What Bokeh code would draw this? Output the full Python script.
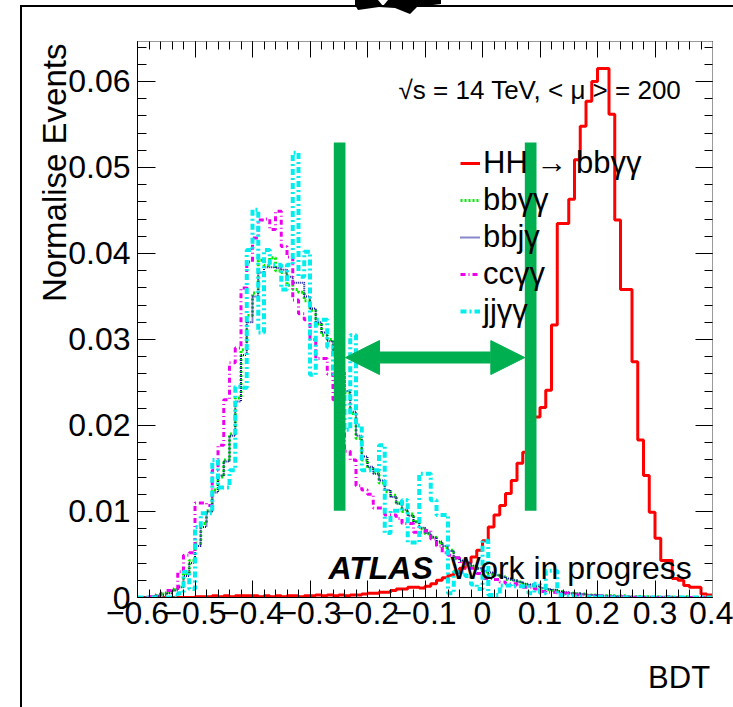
import numpy as np
from bokeh.plotting import figure
from bokeh.models import (Range1d, LinearAxis, FixedTicker, CustomJSTickFormatter, Legend,
                          LegendItem, BoxAnnotation, Arrow, NormalHead, Label, InlineStyleSheet)
from bokeh.embed import file_html
from bokeh.resources import INLINE

# ---------------- data ----------------
bin_lo, bin_hi, n_bins = -0.6, 0.4, 100
bin_edges = np.round(np.linspace(bin_lo, bin_hi, n_bins + 1), 4)

signal_hh = [0, 0, 0, 0, 0, 0, 0, 0, 0, 0,
             0.0001, 0.0001, 0.0001, 0.0002, 0.0001, 0.0002, 0.0001, 0.0002, 0.0002, 0.0002,
             0.0002, 0.0001, 0.0002, 0.0001, 0.0002, 0.0001, 0.0002, 0.0002, 0.0001, 0.0002,
             0.0002, 0.0003, 0.0002, 0.0003, 0.0002, 0.0003, 0.0002, 0.0003, 0.0003, 0.0004,
             0.0005, 0.0005, 0.0006, 0.0006, 0.0008, 0.0010, 0.0010, 0.0012, 0.0012, 0.0011,
             0.0013, 0.0016, 0.0020, 0.0023, 0.0026, 0.0029, 0.0034, 0.0040, 0.0047, 0.0055,
             0.0066, 0.0082, 0.0096, 0.0107, 0.0121, 0.0136, 0.0156, 0.0169, 0.0185, 0.0210,
             0.0221, 0.0241, 0.0317, 0.0435, 0.0435, 0.0463, 0.0509, 0.0548, 0.0577, 0.0600,
             0.0615, 0.0615, 0.0562, 0.0439, 0.0358, 0.0358, 0.0274, 0.0183, 0.0142, 0.0099,
             0.0069, 0.0043, 0.0043, 0.0022, 0.0020, 0.0014, 0.0012, 0.0012, 0.0004, 0.0003]

bkg_bbyy = [0.0000, 0.0000, 0.0001, 0.0002, 0.0004, 0.0006, 0.0009, 0.0013, 0.0028, 0.0043,
            0.0063, 0.0086, 0.0101, 0.0125, 0.0140, 0.0160, 0.0190, 0.0232, 0.0288, 0.0328,
            0.0354, 0.0392, 0.0386, 0.0395, 0.0380, 0.0378, 0.0363, 0.0358, 0.0355, 0.0345,
            0.0334, 0.0318, 0.0305, 0.0300, 0.0288, 0.0262, 0.0238, 0.0214, 0.0185, 0.0160,
            0.0150, 0.0146, 0.0133, 0.0123, 0.0119, 0.0110, 0.0100, 0.0097, 0.0088, 0.0080,
            0.0074, 0.0070, 0.0064, 0.0058, 0.0055, 0.0045, 0.0042, 0.0038, 0.0036, 0.0034,
            0.0030, 0.0027, 0.0026, 0.0024, 0.0021, 0.0020, 0.0018, 0.0015, 0.0014, 0.0013,
            0.0010, 0.0009, 0.0008, 0.0007, 0.0005, 0.0005, 0.0004, 0.0004, 0.0003, 0.0003,
            0.0002, 0.0002, 0.0002, 0.0001, 0.0002, 0.0001, 0.0001, 0.0001, 0.0001, 0.0000,
            0.0001, 0.0000, 0.0001, 0.0000, 0.0000, 0.0001, 0.0000, 0.0000, 0.0000, 0.0000]

bkg_bbjy = [0.0000, 0.0000, 0.0001, 0.0002, 0.0003, 0.0005, 0.0008, 0.0012, 0.0025, 0.0040,
            0.0060, 0.0082, 0.0100, 0.0122, 0.0142, 0.0158, 0.0188, 0.0228, 0.0282, 0.0320,
            0.0350, 0.0378, 0.0384, 0.0384, 0.0383, 0.0381, 0.0373, 0.0366, 0.0366, 0.0350,
            0.0336, 0.0320, 0.0308, 0.0298, 0.0286, 0.0262, 0.0240, 0.0216, 0.0188, 0.0164,
            0.0152, 0.0144, 0.0136, 0.0125, 0.0117, 0.0109, 0.0102, 0.0095, 0.0088, 0.0081,
            0.0075, 0.0070, 0.0065, 0.0060, 0.0054, 0.0047, 0.0043, 0.0040, 0.0037, 0.0034,
            0.0031, 0.0029, 0.0026, 0.0024, 0.0022, 0.0020, 0.0018, 0.0016, 0.0015, 0.0013,
            0.0011, 0.0010, 0.0009, 0.0007, 0.0006, 0.0005, 0.0005, 0.0004, 0.0003, 0.0003,
            0.0002, 0.0002, 0.0002, 0.0001, 0.0001, 0.0001, 0.0001, 0.0001, 0.0000, 0.0001,
            0.0000, 0.0001, 0.0000, 0.0000, 0.0001, 0.0000, 0.0000, 0.0000, 0.0000, 0.0000]

bkg_ccyy = [0.0000, 0.0000, 0.0001, 0.0003, 0.0005, 0.0008, 0.0010, 0.0030, 0.0049, 0.0052,
            0.0110, 0.0110, 0.0107, 0.0148, 0.0177, 0.0230, 0.0273, 0.0290, 0.0360, 0.0390,
            0.0418, 0.0439, 0.0440, 0.0428, 0.0449, 0.0408, 0.0396, 0.0346, 0.0330, 0.0323,
            0.0300, 0.0278, 0.0278, 0.0260, 0.0230, 0.0200, 0.0170, 0.0160, 0.0130, 0.0125,
            0.0120, 0.0104, 0.0104, 0.0096, 0.0096, 0.0092, 0.0086, 0.0086, 0.0076, 0.0076,
            0.0078, 0.0068, 0.0060, 0.0052, 0.0049, 0.0046, 0.0040, 0.0034, 0.0034, 0.0028,
            0.0022, 0.0022, 0.0021, 0.0018, 0.0016, 0.0016, 0.0014, 0.0012, 0.0012, 0.0010,
            0.0007, 0.0006, 0.0006, 0.0005, 0.0005, 0.0004, 0.0003, 0.0003, 0.0002, 0.0002,
            0.0002, 0.0001, 0.0001, 0.0001, 0.0001, 0.0001, 0.0000, 0.0001, 0.0000, 0.0000,
            0.0000, 0.0000, 0.0001, 0.0000, 0.0000, 0.0000, 0.0000, 0.0000, 0.0000, 0.0000]

bkg_jjyy = [0.0000, 0.0000, 0.0000, 0.0000, 0.0000, 0.0000, 0.0000, 0.0005, 0.0030, 0.0010,
            0.0082, 0.0098, 0.0098, 0.0160, 0.0128, 0.0128, 0.0148, 0.0245, 0.0244, 0.0404,
            0.0451, 0.0308, 0.0404, 0.0387, 0.0387, 0.0358, 0.0387, 0.0517, 0.0373, 0.0402,
            0.0259, 0.0323, 0.0323, 0.0291, 0.0260, 0.0240, 0.0195, 0.0305, 0.0200, 0.0148,
            0.0148, 0.0148, 0.0177, 0.0075, 0.0101, 0.0101, 0.0113, 0.0064, 0.0064, 0.0144,
            0.0144, 0.0113, 0.0096, 0.0096, 0.0005, 0.0030, 0.0030, 0.0025, 0.0015, 0.0010,
            0.0066, 0.0003, 0.0003, 0.0014, 0.0014, 0.0013, 0.0013, 0.0013, 0.0005, 0.0016,
            0.0005, 0.0031, 0.0031, 0.0003, 0.0002, 0.0002, 0.0001, 0.0001, 0.0001, 0.0000,
            0.0001, 0.0000, 0.0000, 0.0001, 0.0000, 0.0000, 0.0000, 0.0000, 0.0000, 0.0000,
            0.0000, 0.0000, 0.0000, 0.0000, 0.0000, 0.0000, 0.0000, 0.0000, 0.0000, 0.0000]

series_labels = ["HH \u2192 bb\u03b3\u03b3", "bb\u03b3\u03b3", "bbj\u03b3", "cc\u03b3\u03b3", "jj\u03b3\u03b3"]

x_ticks = [-0.6, -0.5, -0.4, -0.3, -0.2, -0.1, 0.0, 0.1, 0.2, 0.3, 0.4]
x_tick_labels = ["\u22120.6", "\u22120.5", "\u22120.4", "\u22120.3", "\u22120.2", "\u22120.1",
                 "0", "0.1", "0.2", "0.3", "0.4"]
y_ticks = [0.0, 0.01, 0.02, 0.03, 0.04, 0.05, 0.06]
y_tick_labels = ["0", "0.01", "0.02", "0.03", "0.04", "0.05", "0.06"]
x_minor = [float(v) for v in np.round(np.arange(-0.6, 0.4001, 0.02), 4)]
y_minor = [float(v) for v in np.round(np.arange(0.0, 0.0650, 0.002), 4)]

x_title = "BDT"
y_title = "Normalise Events"

cut_low = (-0.2586, -0.2383)
cut_high = (0.0736, 0.0939)
cut_y = (0.0101, 0.0529)
arrow_y = 0.0279

# ---------------- figure ----------------
FONT = "Liberation Sans"
GREEN = "#00b050"
NBSP = "\u00a0"

# the pad border of the original canvas (and the small black mark at its top edge)
pad_css = InlineStyleSheet(css="""
:host::after {
  content: ''; position: absolute; left: 20px; top: 5px; right: 0px; bottom: -2px;
  border-left: 2px solid black; border-top: 2px solid black;
  pointer-events: none; z-index: 10;
}
:host::before {
  content: ''; position: absolute; left: 355px; top: 0px; width: 86px; height: 15px;
  background: black; pointer-events: none; z-index: 10;
  clip-path: polygon(0px 0px, 23px 0px, 28px 6px, 33px 0px, 86px 0px, 86px 4px,
                     62px 7px, 55px 14px, 40px 8px, 24px 7px, 3px 10px, 0px 5px);
}
""")

p = figure(width=733, height=705, x_range=Range1d(-0.6, 0.4), y_range=Range1d(0, 0.06465),
           output_backend="svg", toolbar_location=None,
           x_axis_location=None, y_axis_location=None,
           min_border_left=137, min_border_right=21, min_border_top=41, min_border_bottom=108)
p.outline_line_color = None
p.xgrid.visible = False
p.ygrid.visible = False
p.background_fill_color = "white"
p.border_fill_color = "white"
p.stylesheets = [pad_css]

lab_fmt_code = """
const i = tvals.findIndex(t => Math.abs(t - tick) < 1e-9);
return i >= 0 ? tlabs[i] : '';
"""

def make_axis(ticks, minor, labels, show, line_color, maj_in, min_in, standoff,
              title=None, title_size="32px", title_standoff=5):
    if show:
        fmt = CustomJSTickFormatter(args=dict(tvals=ticks, tlabs=labels), code=lab_fmt_code)
    else:
        fmt = CustomJSTickFormatter(code="return '';")
    ax = LinearAxis(ticker=FixedTicker(ticks=ticks, minor_ticks=minor), formatter=fmt,
                    major_tick_in=maj_in, major_tick_out=0, minor_tick_in=min_in, minor_tick_out=0,
                    axis_line_color=line_color, axis_line_width=1,
                    major_tick_line_color="black", minor_tick_line_color="black",
                    major_label_standoff=standoff,
                    major_label_text_font=FONT,
                    major_label_text_font_size="32px" if show else "1px",
                    major_label_text_color="black")
    if title is not None:
        ax.axis_label = title
        ax.axis_label_text_font = FONT
        ax.axis_label_text_font_style = "normal"
        ax.axis_label_text_font_size = title_size
        ax.axis_label_text_color = "black"
        ax.axis_label_standoff = title_standoff
    return ax

# ROOT puts the axis titles at the far end of the axis: pad with no-break spaces
y_title_padded = NBSP * 32 + y_title
x_title_padded = NBSP * 59 + x_title

p.add_layout(make_axis(y_ticks, y_minor, y_tick_labels, True, "black", 18, 9, 7,
                       title=y_title_padded, title_size="33px", title_standoff=-8), "left")
p.add_layout(make_axis(x_ticks, x_minor, x_tick_labels, True, "black", 17, 8, 4,
                       title=x_title_padded, title_size="31px", title_standoff=33), "below")
p.add_layout(make_axis(x_ticks, x_minor, x_tick_labels, False, "#9a9a9a", 16, 8, 0), "above")
p.add_layout(make_axis(y_ticks, y_minor, y_tick_labels, False, "#9a9a9a", 17, 8, 0), "right")

xs = [float(v) for v in bin_edges]

def step_y(vals):
    return list(vals) + [vals[-1]]

r_sig = p.step(xs, step_y(signal_hh), mode="after", line_color="#ff0000", line_width=3)
r_bbyy = p.step(xs, step_y(bkg_bbyy), mode="after", line_color="#00ee00", line_width=3,
                line_dash="2 2")
r_bbjy = p.step(xs, step_y(bkg_bbjy), mode="after", line_color="#10109a", line_width=2,
                line_dash="1 1")
r_ccyy = p.step(xs, step_y(bkg_ccyy), mode="after", line_color="#ee00ee", line_width=3,
                line_dash="5 3 1 3")
r_jjyy = p.step(xs, step_y(bkg_jjyy), mode="after", line_color="#00eeee", line_width=4,
                line_dash="6 3 2 3")

legend = Legend(items=[LegendItem(label=lab, renderers=[r]) for lab, r in
                       zip(series_labels, [r_sig, r_bbyy, r_bbjy, r_ccyy, r_jjyy])],
                location=(323, 268), glyph_width=20, glyph_height=20, label_standoff=3,
                label_text_font=FONT, label_text_font_size="31px", label_text_color="black",
                padding=0, margin=0, spacing=1, border_line_color=None,
                background_fill_alpha=0)
p.add_layout(legend)

# cut bars and double arrow
for lo, hi in (cut_low, cut_high):
    p.add_layout(BoxAnnotation(left=lo, right=hi, bottom=cut_y[0], top=cut_y[1],
                               fill_color=GREEN, fill_alpha=1.0, line_alpha=0))
p.add_layout(Arrow(x_start=cut_low[1], y_start=arrow_y, x_end=cut_high[0], y_end=arrow_y,
                   line_color=GREEN, line_width=12,
                   start=NormalHead(size=34, fill_color=GREEN, line_color=GREEN, line_width=1),
                   end=NormalHead(size=34, fill_color=GREEN, line_color=GREEN, line_width=1)))

# texts inside the frame
def canvas_label(**kw):
    kw.setdefault("text_font", FONT)
    kw.setdefault("text_color", "black")
    return Label(x_units="canvas", y_units="canvas", **kw)

p.add_layout(canvas_label(x=688, y=89, text="\u221as = 14 TeV, <  \u03bc > = 200",
                          text_align="right", text_baseline="alphabetic", text_font_size="26px"))
p.add_layout(canvas_label(x=328, y=567, text="ATLAS", text_align="left",
                          text_baseline="alphabetic", text_font_size="32px",
                          text_font_style="bold italic"))
p.add_layout(canvas_label(x=450, y=567, text="Work in progress", text_align="left",
                          text_baseline="alphabetic", text_font_size="32px"))

open("out.html", "w").write(file_html(p, INLINE))
